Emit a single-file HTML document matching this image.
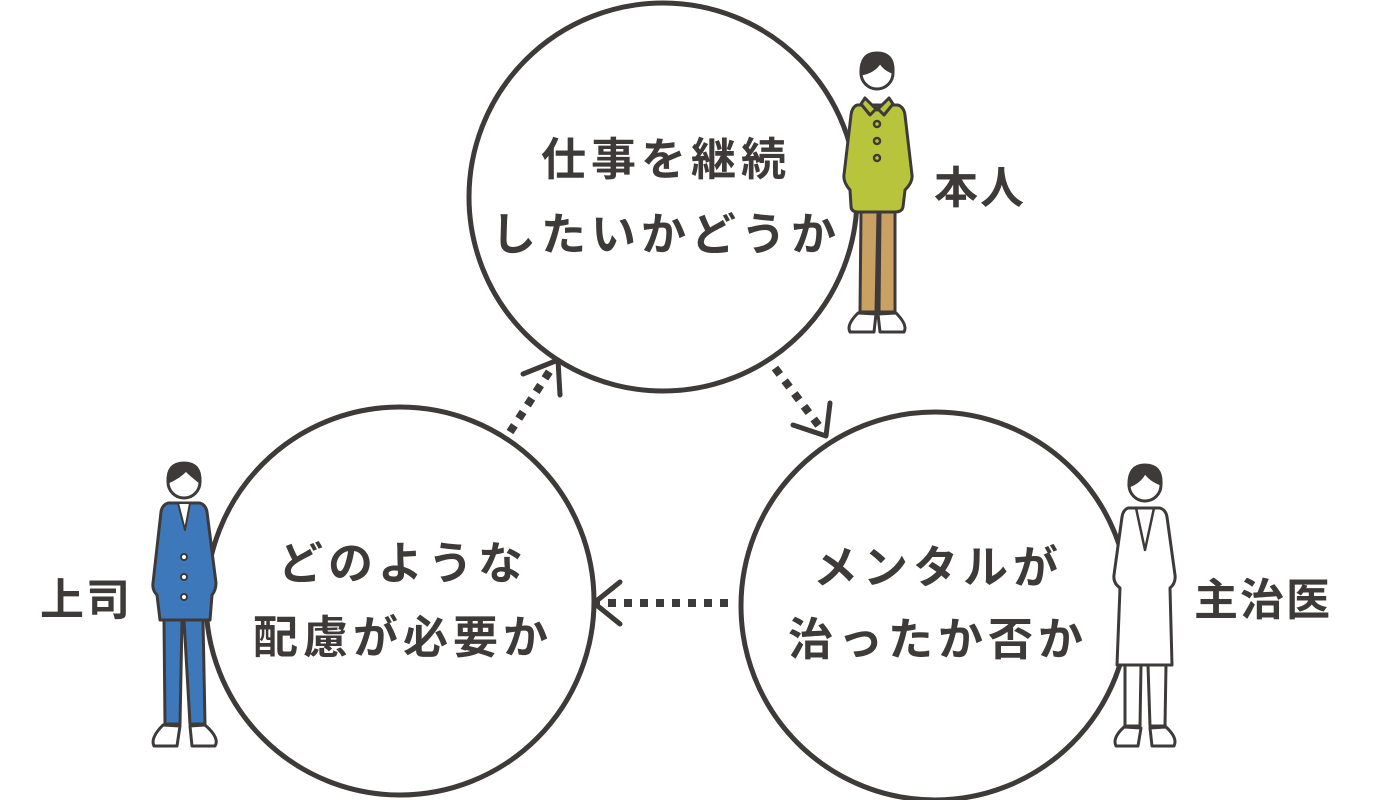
<!DOCTYPE html>
<html><head><meta charset="utf-8"><style>
html,body{margin:0;padding:0;background:#fff;}
svg{display:block;}
text{font-family:"Liberation Sans","Noto Sans CJK JP",sans-serif;font-weight:bold;fill:#3e3a39;}
</style></head><body>
<svg width="1378" height="800" viewBox="0 0 1378 800" xmlns="http://www.w3.org/2000/svg">
<g fill="none" stroke="#3e3a39" stroke-width="5">
<circle cx="663" cy="197" r="194"/>
<circle cx="400" cy="601" r="194"/>
<circle cx="935" cy="606" r="194"/>
</g>
<g stroke="#3e3a39" fill="none">
<line x1="510" y1="432" x2="553" y2="366" stroke-width="8" stroke-dasharray="8,8"/>
<polyline points="523,374 558,360 560,395" stroke-width="5" stroke-linecap="round" stroke-linejoin="round"/>
<line x1="775" y1="368" x2="822" y2="430" stroke-width="8" stroke-dasharray="8,8"/>
<polyline points="830,403 826,436 793,425" stroke-width="5" stroke-linecap="round" stroke-linejoin="round"/>
<line x1="728" y1="603" x2="598" y2="603" stroke-width="8" stroke-dasharray="8,8"/>
<polyline points="620,582 594,603 620,624" stroke-width="5" stroke-linecap="round" stroke-linejoin="round"/>
</g>
<g font-size="45" text-anchor="middle" letter-spacing="5">
<text x="666" y="175">仕事を継続</text>
<text x="666" y="250">したいかどうか</text>
<text x="403" y="579">どのような</text>
<text x="403" y="653">配慮が必要か</text>
<text x="938" y="583">メンタルが</text>
<text x="938" y="655">治ったか否か</text>
</g>
<g font-size="44" letter-spacing="2">
<text x="934" y="203">本人</text>
<text x="40" y="615">上司</text>
<text x="1194" y="615">主治医</text>
</g>
<g stroke="#3e3a39" stroke-width="3" stroke-linejoin="round">
<path d="M861,212 L860,312 L876,312 L878,212 Z M880,212 L879,312 L895,312 L895,212 Z" fill="#c9a163"/>
<path d="M858,313 Q846,325 850,332 L874,332 L876,314 Z M878,314 L880,332 L904,332 Q908,325 896,313 Z" fill="#fff"/>
<path d="M857,105 L898,105 Q904,107 905,115 L912,175 Q913,182 905,190 L903,207 Q902,212 895,212 L858,212 Q851,212 851,206 L850,190 Q843,182 844,175 L851,115 Q852,107 857,105 Z" fill="#b8c43c"/>
<circle cx="877" cy="73" r="16" fill="#fff"/>
<path d="M861,74 Q860,53 877,53 Q894,53 893,72 Q885,70 880,62 Q874,72 861,74 Z" fill="#3e3a39"/>
<path d="M865,98 L877,110 L889,98 L893,104 L884,115 L877,108 L870,115 L861,104 Z" fill="#b8c43c"/>
<circle cx="877" cy="124" r="3" fill="none" stroke-width="2.5"/>
<circle cx="877" cy="141" r="3" fill="none" stroke-width="2.5"/>
<circle cx="877" cy="158" r="3" fill="none" stroke-width="2.5"/>
</g>
<g stroke="#3e3a39" stroke-width="3" stroke-linejoin="round">
<path d="M164,620 L165,724 L180,724 L182,620 Z M184,620 L190,724 L205,724 L203,620 Z" fill="#3d78bb"/>
<path d="M163,725 Q150,738 154,746 L177,746 L180,726 Z M190,726 L192,746 L215,746 Q220,738 205,725 Z" fill="#fff"/>
<path d="M168,503 L200,503 Q206,505 207,512 L216,583 Q216,590 212,595 L210,620 L160,620 L157,595 Q152,590 153,583 L161,512 Q162,505 168,503 Z" fill="#3d78bb"/>
<path d="M178,503 L185,530 L190,503 Z" fill="#fff" stroke-width="2"/>
<circle cx="184" cy="482" r="16" fill="#fff"/>
<path d="M168,482 Q167,463 184,463 Q201,463 200,482 Q192,476 186,470 Q178,478 168,482 Z" fill="#3e3a39"/>
<circle cx="184" cy="557" r="3" fill="#fff" stroke-width="2"/>
<circle cx="184" cy="577" r="3" fill="#fff" stroke-width="2"/>
<circle cx="184" cy="597" r="3" fill="#fff" stroke-width="2"/>
</g>
<g stroke="#3e3a39" stroke-width="3" stroke-linejoin="round" fill="#fff">
<path d="M1125,665 L1125,726 L1140,726 L1141,665 Z M1148,665 L1150,726 L1165,726 L1166,665 Z"/>
<path d="M1124,727 Q1112,738 1116,746 L1138,746 L1141,728 Z M1150,728 L1152,746 L1174,746 Q1178,738 1166,727 Z"/>
<path d="M1128,508 L1160,508 Q1166,510 1167,517 L1175,575 Q1176,583 1170,588 L1172,665 L1117,665 L1120,588 Q1113,583 1114,575 L1122,517 Q1123,510 1128,508 Z"/>
<path d="M1136,508 L1145,550 L1154,508" fill="none" stroke-width="2.5"/>
<circle cx="1145" cy="485" r="16"/>
<path d="M1129,486 Q1128,465 1145,465 Q1162,465 1161,484 Q1150,480 1145,472 Q1140,482 1129,486 Z" fill="#3e3a39"/>
</g>
</svg>
</body></html>
